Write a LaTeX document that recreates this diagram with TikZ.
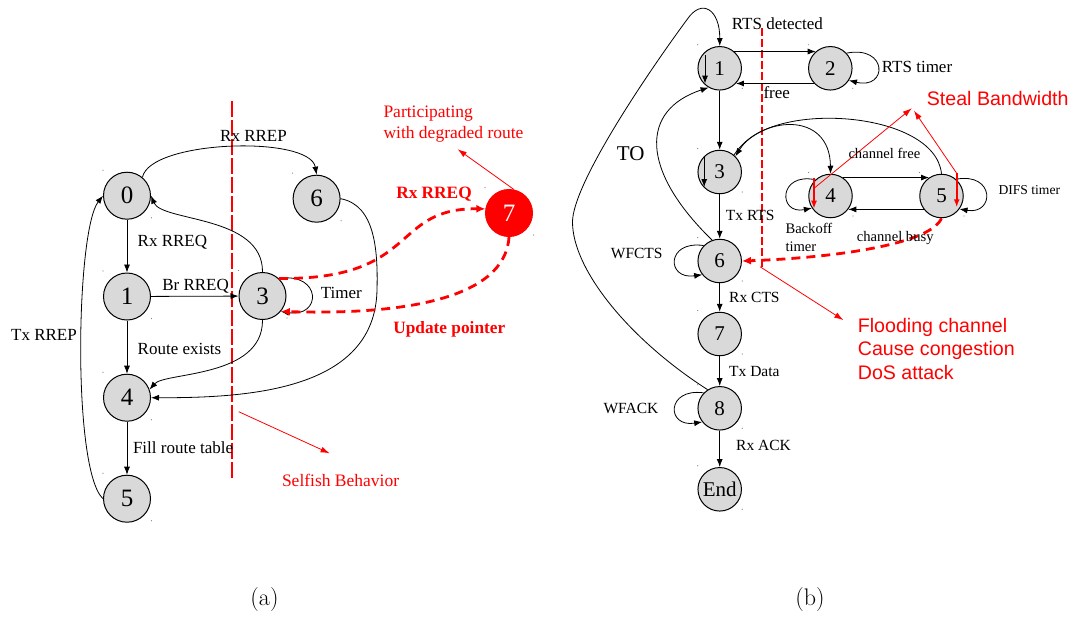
\documentclass[tikz,border=0pt]{standalone}
\usepackage{fontspec}
\newfontfamily\tms{Liberation Serif}
\newfontfamily\ars{Liberation Sans}
\usetikzlibrary{arrows.meta}
\definecolor{ngray}{HTML}{D9D9D9}
\definecolor{redA}{HTML}{FF0000}
\begin{document}
\begin{tikzpicture}[x=1pt,y=-1pt,
 sta/.style={circle,draw,fill=ngray,minimum size=47pt,inner sep=0pt,line width=1pt,font={\tms\fontsize{25}{25}\selectfont}},
 stb/.style={circle,draw,fill=ngray,minimum size=43.5pt,inner sep=0pt,line width=1pt,font={\tms\fontsize{21}{21}\selectfont}},
 edge/.style={line width=0.8pt,-{Latex[length=8pt,width=6pt]}},
 redd/.style={draw=redA,line width=2.8pt,dash pattern=on 9pt off 6pt,-{Latex[length=9pt,width=8pt]}},
 redthin/.style={draw=redA,line width=0.8pt,-{Latex[length=9pt,width=6pt]}},
 redin/.style={draw=redA,line width=2pt,-{Latex[length=8pt,width=6pt]}},
 vline/.style={draw=redA,line width=2.2pt},
 la/.style={font={\tms\fontsize{17}{20}\selectfont},inner sep=0pt},
 lar/.style={font={\tms\fontsize{17.5}{20.3}\selectfont},inner sep=0pt,text=redA},
 larb/.style={font={\tms\bfseries\fontsize{17.3}{20}\selectfont},inner sep=0pt,text=redA},
 lb/.style={font={\tms\fontsize{15.5}{18}\selectfont},inner sep=0pt,anchor=west},
 lbs/.style={font={\tms\fontsize{14.6}{18}\selectfont},inner sep=0pt,anchor=west},
 lbr/.style={font={\ars\fontsize{19.6}{23.5}\selectfont},inner sep=0pt,anchor=west,text=redA,align=left},
 captxt/.style={font=\fontsize{24}{24}\selectfont,inner sep=0pt}
]
\useasboundingbox (0,0) rectangle (1075,616);

% ---------------- (a) ----------------
\node[sta] (a0) at (127,195.7) {0};
\node[sta] (a1) at (127,296.5) {1};
\node[sta] (a4) at (127,397.7) {4};
\node[sta] (a5) at (127,498.7) {5};
\node[sta] (a3) at (262.5,296) {3};
\node[sta] (a6) at (316.6,198.7) {6};
\node[sta,fill=redA,draw=redA,text=white] (a7) at (509,213) {7};

\draw[vline,dash pattern=on 16pt off 3pt] (232,101) -- (232,478);

\draw[edge] (a0) -- (a1);
\draw[edge] (a1) -- (a3);
\draw[edge] (a1) -- (a4);
\draw[edge] (a4) -- (a5);
\draw[edge] (a0.50) .. controls (150,140) and (310,135) .. (a6.north);
\draw[edge] (a3.north) .. controls (263,215) and (162,222) .. (a0.east);
\draw[edge] (a5.west) .. controls (72,470) and (76,230) .. (a0.west);
\draw[edge] (a3.south) .. controls (263,378) and (165,372) .. (a4.20);
\draw[edge] (a6.east) .. controls (375,205) and (378,250) .. (377,290) .. controls (375,390) and (250,398) .. (a4.east);
\draw[edge] (a3.47) .. controls (322,272) and (322,318) .. (a3.-40);
\draw[redd] (a3.47) .. controls (420,280) and (390,208) .. (a7.170);
\draw[redd] (a7.south) .. controls (505,300) and (400,315) .. (a3.-40);

\coordinate (pa) at (457.7,149.3);
\draw[redthin] (a7.78) -- (pa);
\coordinate (sf1) at (238.7,411.7);
\coordinate (sf2) at (329.6,453.3);
\draw[redthin] (sf1) -- (sf2);

\node[la] (lrxrrep) at (253.5,135.7) {Rx RREP};
\node[la,anchor=west] (lrxrreq) at (137.5,242.7) {Rx RREQ};
\node[la] (lbrrreq) at (195.6,286) {Br RREQ};
\node[la,anchor=west] (ltimer) at (320.6,293) {Timer};
\node[la,anchor=west] (lroute) at (137.5,349) {Route exists};
\node[la] (ltxrrep) at (44,334.7) {Tx RREP};
\node[la,anchor=west] (lfill) at (132.8,447.7) {Fill route table};
\node[lar,anchor=west] (lself) at (281.8,480) {Selfish Behavior};
\node[lar,anchor=west,align=left] (lpart) at (383.3,124.2) {Participating\\with degraded route};
\node[larb] (lrx7) at (434,194.3) {Rx RREQ};
\node[larb] (lupd) at (449.3,329.3) {Update pointer};
\node[captxt] (capa) at (264.5,600) {(a)};

% ---------------- (b) ----------------
\node[stb] (b1) at (719.7,68.3) {1};
\node[stb] (b2) at (830.3,68.3) {2};
\node[stb] (b3) at (719.7,172) {3};
\node[stb] (b4) at (830.5,196) {4};
\node[stb] (b5) at (941.5,196) {5};
\node[stb] (b6) at (719.7,261) {6};
\node[stb] (b7) at (719.7,334) {7};
\node[stb] (b8) at (719.7,408.3) {8};
\node[stb] (bE) at (719.7,489.3) {End};

\draw[vline,dash pattern=on 8pt off 3pt] (762.3,28) -- (762.3,268);

\draw[edge] (b1.49) -- (b2.131);
\draw[edge] (b2.-137) -- (b1.-43);
\draw[edge] (b2.43) .. controls (888,45) and (888,90) .. (b2.-33);
\draw[edge] (b1) -- (b3);
\draw[edge] (b3) -- (b6);
\draw[edge] (b6) -- (b7);
\draw[edge] (b7) -- (b8);
\draw[edge] (b8) -- (bE);
\draw[edge] (b1.center) ++(-14.7,-13) -- ++(0,28.3);
\draw[edge] (b3.center) ++(-15.5,-15) -- ++(0,30);
\draw[edge] (b6.110) .. controls (640,170) and (640,110) .. (b1.-120);
\draw[edge] (b8.123) .. controls (630,340) and (572.5,270) .. (572.5,222)
   .. controls (572.5,185) and (644,78) .. (686.7,20)
   .. controls (702,-3) and (720,10) .. (b1.north);
\draw[edge] (b3.50) .. controls (760,115) and (830,110) .. (b4.north);
\draw[edge] (b5.north) .. controls (935,110) and (770,100) .. (b3.45);
\draw[edge] (b4.56) -- (b5.124);
\draw[edge] (b5.-143) -- (b4.-37);
\draw[edge] (b4.133) .. controls (778,172) and (778,215) .. (b4.-147);
\draw[edge] (b5.49) .. controls (995,172) and (995,215) .. (b5.-36);
\draw[edge] (b6.136) .. controls (666,240) and (666,280) .. (b6.-142);
\draw[edge] (b8.136) .. controls (666,387.6) and (666,427.6) .. (b8.-142);

\draw[redin] (b4.center) ++(-16.5,-18.3) -- ++(0,31);
\draw[redin] (b5.center) ++(15.2,-22.7) -- ++(0,34);
\coordinate (sb1) at (911.7,108.3);
\coordinate (sb2) at (914,110.7);
\draw[redthin] (b4.center) ++(-16.5,-7.7) -- (sb1);
\draw[redthin] (b5.center) ++(15.2,-22.7) -- (sb2);
\draw[redd] (b5.south) .. controls (930,245) and (830,258) .. (b6.east);
\coordinate (fl1) at (760,266.7);
\coordinate (fl2) at (843.3,320);
\draw[redthin] (fl1) -- (fl2);

\node[la,anchor=west] (lrts) at (731.7,23.3) {RTS detected};
\node[la,anchor=west] (lfree) at (763.3,92.7) {free};
\node[la,anchor=west] (lrtst) at (881.7,67.3) {RTS timer};
\node[lbs] (lchf) at (848.3,153.3) {channel free};
\node[lbs,font={\tms\fontsize{13.6}{16}\selectfont}] (ldifs) at (998.3,190) {DIFS timer};
\node[lbs,align=left] (lback) at (785.3,237.7) {Backoff\\timer};
\node[lbs] (lchb) at (856.7,237.7) {channel busy};
\node[lb] (ltxrts) at (725.7,215) {Tx RTS};
\node[lb,font={\tms\fontsize{21}{24}\selectfont}] (lto) at (616.7,154) {TO};
\node[lb] (lwfcts) at (610.7,253.3) {WFCTS};
\node[lb] (lrxcts) at (729,297.3) {Rx CTS};
\node[lb] (ltxdata) at (729,371.7) {Tx Data};
\node[lb] (lwfack) at (603.3,408.3) {WFACK};
\node[lb] (lrxack) at (736,445) {Rx ACK};
\node[lbr] (lsteal) at (926.7,98.3) {Steal Bandwidth};
\node[lbr] (lflood) at (857.7,348.6) {Flooding channel\\Cause congestion\\DoS attack};
\node[captxt] (capb) at (810,600) {(b)};

% corner dots
\foreach \n/\h in {a0/24,a1/24,a3/24,a4/24,a5/24,a6/24,a7/24,b1/22,b2/22,b3/22,b4/22,b5/22,b6/22,b7/22,b8/22,bE/22}{
  \fill[gray] (\n.center) ++(-\h,-\h-1.5) circle (0.6);
  \fill[gray] (\n.center) ++(\h+0.5,\h-2) circle (0.6);
}
\end{tikzpicture}
\end{document}
